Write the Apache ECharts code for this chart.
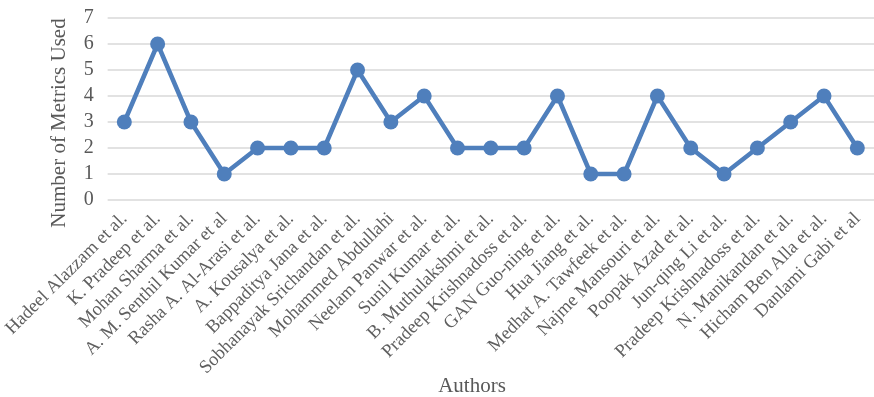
<!DOCTYPE html>
<html><head><meta charset="utf-8">
<script src="https://cdn.jsdelivr.net/npm/echarts@6/dist/echarts.min.js"></script>
<style>html,body{margin:0;padding:0;background:#fff}#c{width:874px;height:397px}</style>
</head><body><div id="c"></div>
<script>
const authors = ["Hadeel Alazzam et al.","K. Pradeep et al.","Mohan Sharma et al.","A. M. Senthil Kumar et al","Rasha A. Al-Arasi et al.","A. Kousalya et al.","Bappaditya Jana et al.","Sobhanayak Srichandan et al.","Mohammed Abdullahi","Neelam Panwar et al.","Sunil Kumar et al.","B. Muthulakshmi et al.","Pradeep Krishnadoss et al.","GAN Guo-ning et al.","Hua Jiang et al.","Medhat A. Tawfeek et al.","Najme Mansouri et al.","Poopak Azad et al.","Jun-qing Li et al.","Pradeep Krishnadoss et al.","N. Manikandan et al.","Hicham Ben Alla et al.","Danlami Gabi et al"];
const metrics = [3,6,3,1,2,2,2,5,3,4,2,2,2,4,1,1,4,2,1,2,3,4,2];
const xTitle = 'Authors';
const yTitle = 'Number of Metrics Used';
const chart = echarts.init(document.getElementById('c'));
const font = "'Liberation Serif', 'Times New Roman', serif";
chart.setOption({
  animation:false,
  grid:{left:107,right:0,top:18,bottom:197,containLabel:false},
  graphic:[
    {type:'text',x:472,y:386,style:{text:xTitle,font:"21px "+font,fill:'#595959',textAlign:'center',textVerticalAlign:'middle'}},
    {type:'text',rotation:Math.PI/2,x:59,y:123,style:{text:yTitle,font:"21px "+font,fill:'#595959',textAlign:'center',textVerticalAlign:'middle'}}
  ],
  xAxis:{type:'category',data:authors,boundaryGap:true,
    axisLine:{show:false},axisTick:{show:false},
    axisLabel:{rotate:45,interval:0,fontFamily:font,fontSize:18.5,color:'#5f5f5f',margin:16}},
  yAxis:{type:'value',min:0,max:7,interval:1,
    axisLine:{show:false},axisTick:{show:false},
    axisLabel:{fontFamily:font,fontSize:20,color:'#595959',margin:14},
    splitLine:{lineStyle:{color:'#d9d9d9',width:1.5}}},
  series:[{type:'line',data:metrics,symbol:'circle',symbolSize:15,
    lineStyle:{color:'#4f7fbc',width:4.5},itemStyle:{color:'#4f7fbc'}}]
});
</script></body></html>
